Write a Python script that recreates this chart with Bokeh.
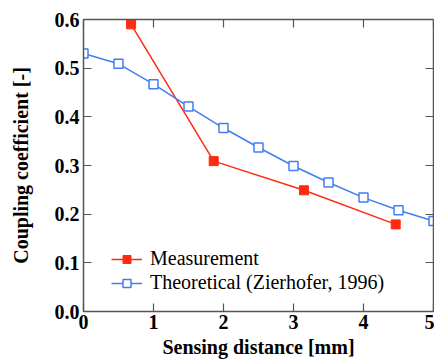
from bokeh.plotting import figure
from bokeh.models import (LinearAxis, FixedTicker, NumeralTickFormatter, Range1d, Legend,
                          LegendItem, CustomJSTickFormatter)
from bokeh.embed import file_html
from bokeh.resources import INLINE

# Data
meas_x = [0.68, 1.86, 3.15, 4.46]
meas_y = [0.590, 0.309, 0.249, 0.179]
theo_x = [0.0, 0.5, 1.0, 1.5, 2.0, 2.5, 3.0, 3.5, 4.0, 4.5, 5.0]
theo_y = [0.530, 0.509, 0.467, 0.421, 0.377, 0.337, 0.299, 0.265, 0.234, 0.208, 0.186]
x_ticks = [0, 1, 2, 3, 4, 5]
y_ticks = [0.0, 0.1, 0.2, 0.3, 0.4, 0.5, 0.6]
series_names = ["Measurement", "Theoretical (Zierhofer, 1996)"]

RED = "#ff2a12"
BLUE = "#3f7ff5"
AXIS = "#555555"
FONT = "Liberation Serif"

p = figure(width=434, height=363, output_backend="svg", toolbar_location=None,
           x_range=Range1d(0, 5), y_range=Range1d(0, 0.6),
           x_axis_label="Sensing distance [mm]", y_axis_label="Coupling coefficient [-]",
           min_border_left=83, min_border_right=1, min_border_top=19, min_border_bottom=52)
p.grid.visible = False
p.outline_line_color = None
p.background_fill_color = "white"
p.border_fill_color = "white"

def style_axis(ax, labels=True):
    ax.axis_line_color = AXIS
    ax.axis_line_width = 1.5
    ax.major_tick_line_color = AXIS
    ax.major_tick_line_width = 1.2
    ax.major_tick_in = 8
    ax.major_tick_out = 0
    ax.minor_tick_line_color = None
    if labels:
        ax.major_label_text_font = FONT
        ax.major_label_text_font_style = "bold"
        ax.major_label_text_font_size = "20px"
        ax.major_label_text_color = "black"
        ax.axis_label_text_font = FONT
        ax.axis_label_text_font_style = "bold"
        ax.axis_label_text_font_size = "20px"
        ax.axis_label_text_color = "black"
    else:
        ax.formatter = CustomJSTickFormatter(code="return '';")
        ax.major_label_standoff = 0
        ax.axis_label = None

xa = p.xaxis[0]
ya = p.yaxis[0]
xa.ticker = FixedTicker(ticks=x_ticks)
ya.ticker = FixedTicker(ticks=y_ticks)
xa.formatter = NumeralTickFormatter(format="0")
ya.formatter = NumeralTickFormatter(format="0.0")
style_axis(xa)
style_axis(ya)
xa.major_label_standoff = 3
xa.axis_label_standoff = 4
ya.major_label_standoff = 4
ya.axis_label_standoff = 20

top = LinearAxis(ticker=FixedTicker(ticks=x_ticks))
right = LinearAxis(ticker=FixedTicker(ticks=y_ticks))
style_axis(top, labels=False)
style_axis(right, labels=False)
p.add_layout(top, "above")
p.add_layout(right, "right")

l1 = p.line(meas_x, meas_y, line_color=RED, line_width=1.5)
m1 = p.scatter(meas_x, meas_y, marker="square", size=9, fill_color=RED, line_color=RED)
l2 = p.line(theo_x, theo_y, line_color=BLUE, line_width=1.5)
m2 = p.scatter(theo_x, theo_y, marker="square", size=9, fill_color="white", line_color=BLUE, line_width=1.5)

legend = Legend(items=[LegendItem(label=series_names[0], renderers=[l1, m1]),
                       LegendItem(label=series_names[1], renderers=[l2, m2])],
                location=(28, 17))
legend.label_text_font = FONT
legend.label_text_font_size = "20px"
legend.label_text_color = "black"
legend.glyph_width = 31
legend.glyph_height = 20
legend.label_height = 20
legend.label_standoff = 8
legend.spacing = 1
legend.padding = 0
legend.margin = 0
legend.border_line_color = None
legend.background_fill_alpha = 0
p.add_layout(legend, "center")

open("out.html", "w").write(file_html(p, INLINE))
